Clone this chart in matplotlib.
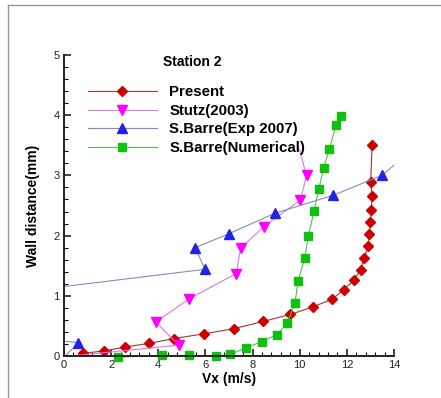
import matplotlib
matplotlib.use("Agg")
import matplotlib.pyplot as plt
from matplotlib.lines import Line2D
from matplotlib.ticker import MultipleLocator

plt.rcParams['font.family'] = ['Liberation Sans', 'DejaVu Sans']

# Present (red diamonds)
present_vx = [0.82, 1.71, 2.6, 3.62, 4.66, 5.96, 7.22, 8.46, 9.6, 10.55, 11.36, 11.87, 12.3,
              12.58, 12.73, 12.9, 12.96, 13.0, 13.04, 13.07, 13.01, 13.07]
present_y = [0.045, 0.085, 0.15, 0.21, 0.29, 0.37, 0.455, 0.575, 0.69, 0.815, 0.94, 1.10, 1.26,
             1.43, 1.63, 1.82, 2.02, 2.23, 2.43, 2.66, 2.89, 3.5]

# Stutz(2003) (magenta, first and last points have no visible marker)
stutz_vx = [0.3, 4.86, 3.9, 5.31, 7.31, 7.49, 8.48, 10.03, 10.29, 9.98]
stutz_y = [0.0, 0.18, 0.565, 0.95, 1.37, 1.79, 2.15, 2.59, 3.0, 3.44]

# S.Barre(Exp 2007) (blue, some points lie outside the plot)
exp_vx = [0.05, 0.61, -0.5, -0.5, 5.98, 5.57, 6.99, 8.94, 11.42, 13.49, 15.0]
exp_y = [0.0, 0.22, 0.27, 1.13, 1.44, 1.80, 2.03, 2.37, 2.67, 3.0, 3.5]

# S.Barre(Numerical) (green squares)
num_vx = [2.3, 4.17, 5.31, 6.43, 7.04, 7.72, 8.38, 9.02, 9.48, 9.8, 9.93, 10.22, 10.37,
          10.61, 10.81, 11.01, 11.26, 11.54, 11.76]
num_y = [-0.02, 0.01, 0.01, 0.0, 0.025, 0.135, 0.24, 0.35, 0.55, 0.88, 1.25, 1.63, 2.0,
         2.41, 2.77, 3.12, 3.44, 3.84, 3.98]

fig = plt.figure(figsize=(4.41, 3.98), dpi=100)
ax = fig.add_axes([64 / 441, 42 / 398, 330 / 441, 301 / 398])

ax.plot(present_vx, present_y, color='#b03030', lw=0.8, marker='D', ms=5.2,
        mfc='#cc0000', mec='#cc0000', label='Present')
ax.plot(stutz_vx, stutz_y, color='#d77cd7', lw=0.8, marker='v', ms=6.5,
        mfc='#ff00ff', mec='#ff00ff', markevery=list(range(1, len(stutz_vx) - 1)),
        label='Stutz(2003)')
ax.plot(exp_vx, exp_y, color='#8888c8', lw=0.8, marker='^', ms=6.5,
        mfc='#2424e0', mec='#2424e0', markevery=[1, 4, 5, 6, 7, 8, 9],
        label='S.Barre(Exp 2007)')
ax.plot(num_vx, num_y, color='#50c050', lw=0.8, marker='s', ms=5.5,
        mfc='#10c010', mec='#10c010', label='S.Barre(Numerical)', clip_on=False)

ax.set_xlim(0, 14)
ax.set_ylim(0, 5)
ax.xaxis.set_major_locator(MultipleLocator(2))
ax.xaxis.set_minor_locator(MultipleLocator(0.4))
ax.yaxis.set_major_locator(MultipleLocator(1))
ax.yaxis.set_minor_locator(MultipleLocator(0.2))
ax.tick_params(which='major', direction='in', length=5, width=1.2, labelsize=8, colors='#222222')
ax.tick_params(which='minor', direction='in', length=3, width=0.8)
ax.tick_params(axis='x', pad=3)
ax.tick_params(axis='y', pad=3)

for side in ['top', 'right']:
    ax.spines[side].set_visible(False)
for side in ['left', 'bottom']:
    ax.spines[side].set_linewidth(1.4)
    ax.spines[side].set_color('#222222')

ax.set_xlabel('Vx (m/s)', fontsize=10, fontweight='bold', labelpad=1)
ax.set_ylabel('Wall distance(mm)', fontsize=10, fontweight='bold', labelpad=10)

leg = ax.legend(loc='upper left', bbox_to_anchor=(80 / 441, 1 - 78 / 398),
                bbox_transform=fig.transFigure, frameon=False,
                prop={'size': 10.8, 'weight': 'bold'}, handlelength=4.6,
                handletextpad=0.85, labelspacing=0.3, borderpad=0)

# legend title placed separately, a bit left of the legend centre
fig.text(192 / 441, 1 - 62 / 398, 'Station 2', fontsize=10, fontweight='bold',
         ha='center', va='center')

# grey frame lines of the original picture
fig.add_artist(Line2D([8 / 441, 8 / 441], [0, 1 - 5 / 398], transform=fig.transFigure,
                      color='#999999', lw=1))
fig.add_artist(Line2D([8 / 441, 1], [1 - 5 / 398, 1 - 5 / 398], transform=fig.transFigure,
                      color='#999999', lw=1))

fig.savefig('out.png', dpi=100)
